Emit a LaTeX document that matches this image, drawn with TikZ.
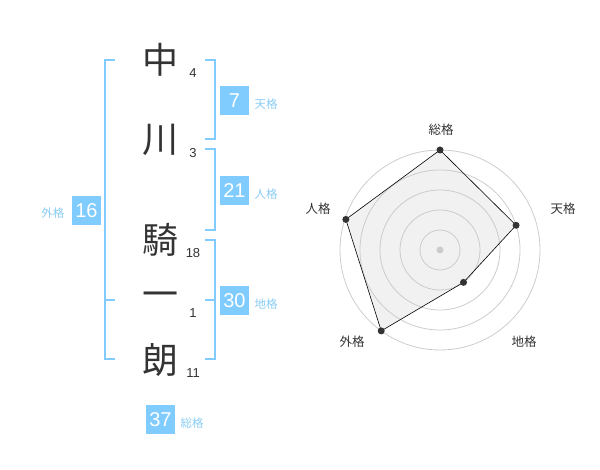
\documentclass[tikz,border=0pt]{standalone}
\usepackage{fontspec}
\setmainfont{Noto Sans CJK JP}
\newfontfamily\numfont{Liberation Sans}
\definecolor{kakublue}{HTML}{80CCFF}
\definecolor{kakulabel}{HTML}{88CCF4}
\definecolor{inkgray}{HTML}{333333}
\definecolor{ringgray}{HTML}{CCCCCC}
\definecolor{areagray}{HTML}{F1F1F1}

\newcommand{\bracketGai}{(gO) -- (gT) -- (gB) -- (gE) (gM) -- (gN)}
\newcommand{\bracketTen}{(tO) -- (tT) -- (tB) -- (tE)}
\newcommand{\bracketJin}{(jO) -- (jT) -- (jB) -- (jE)}
\newcommand{\bracketChi}{(cO) -- (cT) -- (cB) -- (cE) (cM) -- (cN)}
\newcommand{\radarArea}{(pSou.center) -- (pTen.center) -- (pChi.center) -- (pGai.center) -- (pJin.center) -- cycle}

\tikzset{
  kanji/.style={font=\fontsize{36}{36}\selectfont, text=inkgray, inner sep=0},
  strokes/.style={font=\numfont\fontsize{13}{13}\selectfont, text=inkgray, inner sep=0},
  kakubox/.style={fill=kakublue, text=white, minimum size=29pt, inner sep=0, font=\numfont\fontsize{20}{20}\selectfont},
  kakuname/.style={text=kakulabel, inner sep=0, font=\fontsize{11.5}{11.5}\selectfont},
  bracket/.style={draw=kakublue, line width=2pt},
  ring/.style={draw=ringgray, line width=0.8pt},
  dot/.style={circle, fill=inkgray, minimum size=7pt, inner sep=0},
  axisname/.style={text=inkgray, inner sep=0, font=\fontsize{12.5}{12.5}\selectfont},
}

\begin{document}
\begin{tikzpicture}[x=1pt, y=-1pt]
        \useasboundingbox (0,0) rectangle (600,470);
        % name
        \node[kanji] (k1) at (160, 60) {中};
        \node[strokes] (n1) at (193, 73) {4};
        \node[kanji] (k2) at (160, 140) {川};
        \node[strokes] (n2) at (193, 153) {3};
        \node[kanji] (k3) at (160, 240) {騎};
        \node[strokes] (n3) at (193, 253) {18};
        \node[kanji] (k4) at (160, 300) {一};
        \node[strokes] (n4) at (193, 313) {1};
        \node[kanji] (k5) at (160, 360) {朗};
        \node[strokes] (n5) at (193, 373) {11};

        % brackets
        \coordinate (gO) at (115, 60);
        \coordinate (gT) at (105, 60);
        \coordinate (gB) at (105, 359);
        \coordinate (gE) at (115, 359);
        \coordinate (gM) at (105, 300);
        \coordinate (gN) at (115, 300);
        \coordinate (tO) at (205, 60);
        \coordinate (tT) at (215, 60);
        \coordinate (tB) at (215, 139);
        \coordinate (tE) at (205, 139);
        \coordinate (jO) at (205, 149);
        \coordinate (jT) at (215, 149);
        \coordinate (jB) at (215, 230);
        \coordinate (jE) at (205, 230);
        \coordinate (cO) at (205, 240);
        \coordinate (cT) at (215, 240);
        \coordinate (cB) at (215, 359);
        \coordinate (cE) at (205, 359);
        \coordinate (cM) at (205, 300);
        \coordinate (cN) at (215, 300);
        \draw[bracket] \bracketGai \bracketTen \bracketJin \bracketChi;

        % kakusu
        \node[kakubox] (bTen) at (234.5, 100.5) {7};
        \node[kakuname] at (266, 104) {天格};
        \node[kakubox] (bJin) at (234.5, 190.5) {21};
        \node[kakuname] at (266, 194) {人格};
        \node[kakubox] (bChi) at (234.5, 300.5) {30};
        \node[kakuname] at (266, 304) {地格};
        \node[kakubox] (bGai) at (86.5, 210.5) {16};
        \node[kakuname] at (53, 213) {外格};
        \node[kakubox] (bSou) at (160.5, 419.5) {37};
        \node[kakuname] at (192, 423) {総格};

        % radar
        \begin{scope}[shift={(440, 250)}, y=1pt]
          \node (pSou) at (90:100) {};
          \node (pTen) at (18:80) {};
          \node (pChi) at (-54:40) {};
          \node (pGai) at (-126:100) {};
          \node (pJin) at (162:99) {};
          \fill[areagray] \radarArea;
          \foreach \r in {20, 40, 60, 80, 100}
            \draw[ring] (0,0) circle (\r);
          \node[circle, fill=ringgray, minimum size=7pt, inner sep=0] (ctr) at (0,0) {};
          \draw[black, line width=0.6pt] \radarArea;
          \foreach \p in {pSou, pTen, pChi, pGai, pJin}
            \node[dot] at (\p.center) {};
          \node[axisname] at (1, 120) {総格};
          \node[axisname] at (123, 41) {天格};
          \node[axisname] at (-122, 41) {人格};
          \node[axisname] at (-88, -92) {外格};
          \node[axisname] at (84, -92) {地格};
        \end{scope}
\end{tikzpicture}
\end{document}
